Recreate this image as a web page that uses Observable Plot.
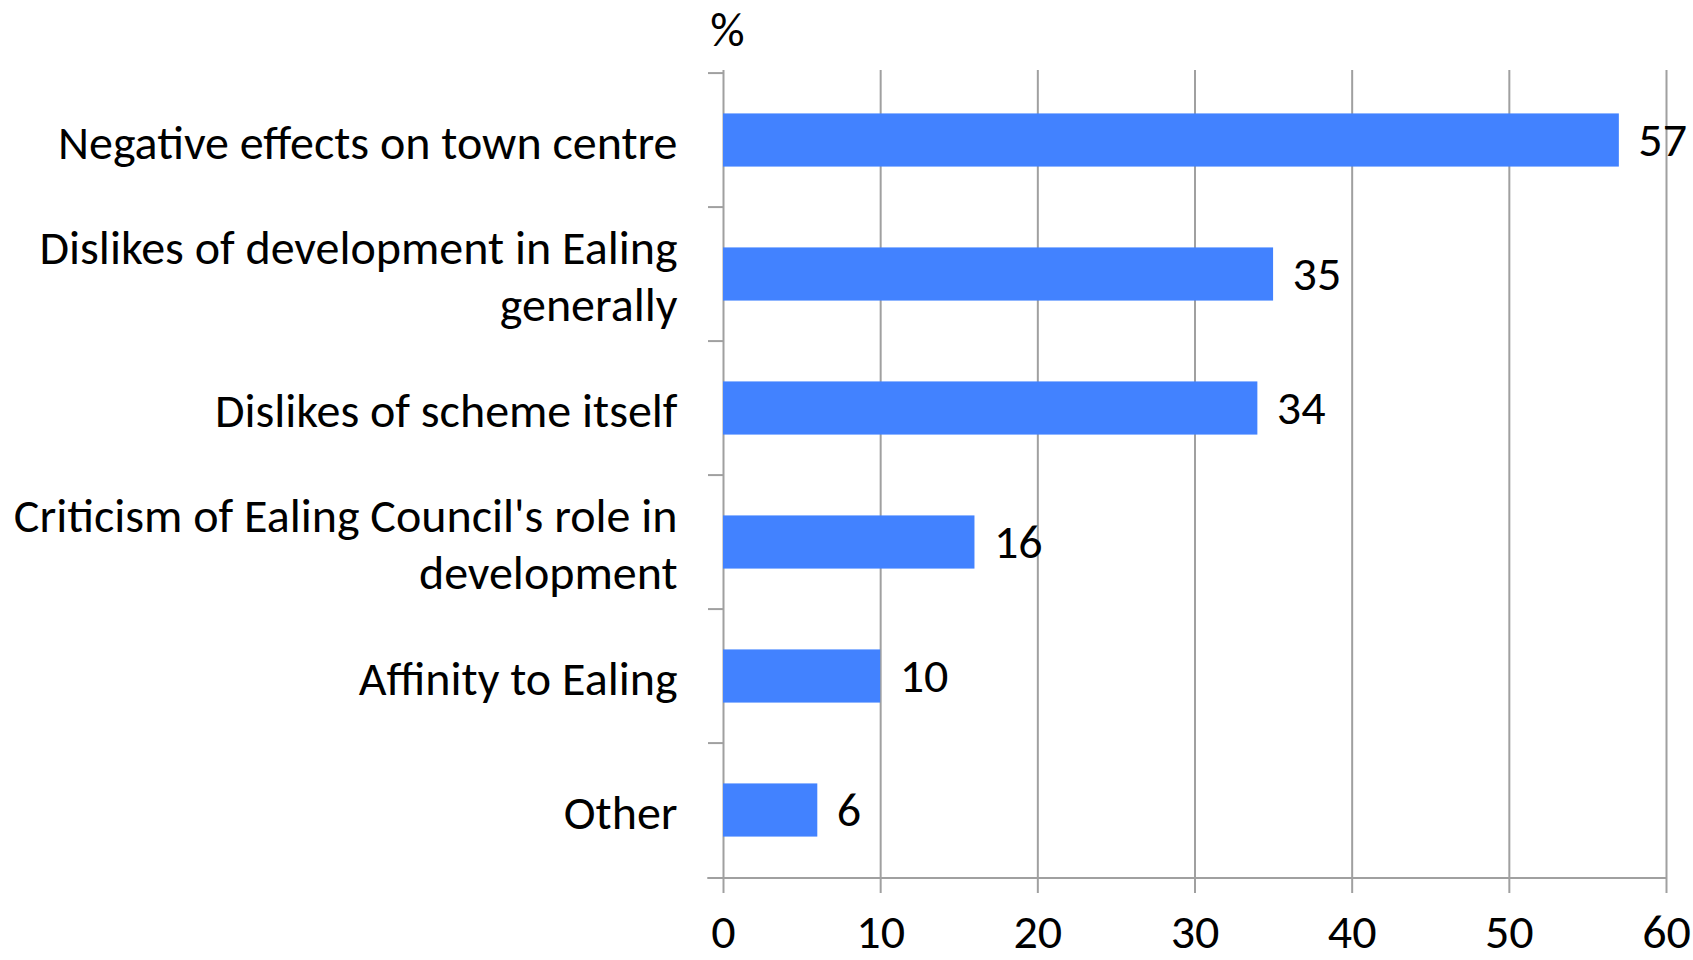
<!DOCTYPE html>
<html>
<head>
<meta charset="utf-8">
<script src="https://cdn.jsdelivr.net/npm/d3@7"></script>
<script src="https://cdn.jsdelivr.net/npm/@observablehq/plot@0.6"></script>
<style>
  html, body { margin: 0; padding: 0; background: #fff; }
  #chart svg { display: block; }
</style>
</head>
<body>
<div id="chart"></div>
<script>
const categories = [
  "Negative effects on town centre",
  "Dislikes of development in Ealing generally",
  "Dislikes of scheme itself",
  "Criticism of Ealing Council's role in development",
  "Affinity to Ealing",
  "Other"
];
const labelLines = [
  "Negative effects on town centre",
  "Dislikes of development in Ealing\ngenerally",
  "Dislikes of scheme itself",
  "Criticism of Ealing Council's role in\ndevelopment",
  "Affinity to Ealing",
  "Other"
];
const values = [57, 35, 34, 16, 10, 6];
const xTicks = [0, 10, 20, 30, 40, 50, 60];
const unitLabel = ["%"];

const data = categories.map((c, i) => ({category: c, label: labelLines[i], value: values[i]}));

const W = 1693, H = 960;
const mt = 70, mb = 81, ml = 723, mr = 27;
const halfStep = (H - mt - mb) / categories.length / 2;
const barInset = halfStep - 27;
const font = "Carlito, Lato, sans-serif";
const fs = 48;
const grey = "#a0a0a0";

const chart = Plot.plot({
  width: W,
  height: H,
  marginTop: mt,
  marginBottom: mb,
  marginLeft: ml,
  marginRight: mr,
  style: {fontFamily: font, fontSize: fs + "px", color: "#000", background: "#fff", overflow: "visible"},
  x: {domain: [0, 60]},
  y: {domain: categories, padding: 0},
  marks: [
    Plot.gridX(xTicks, {stroke: grey, strokeOpacity: 1, strokeWidth: 2}),
    Plot.axisX({ticks: xTicks, tickSize: 14, tickPadding: 20, stroke: grey, strokeWidth: 2, fontSize: fs, label: null, tickFormat: d => d}),
    Plot.axisY({tickSize: 15, text: null, stroke: grey, strokeWidth: 2, dy: -halfStep, label: null}),
    Plot.ruleY([categories[categories.length - 1]], {x1: -1, x2: 60, dy: halfStep, stroke: grey, strokeWidth: 2}),
    Plot.barX(data, {y: "category", x: "value", fill: "#4282ff", insetTop: barInset, insetBottom: barInset}),
    Plot.ruleX([0], {stroke: grey, strokeWidth: 2, y1: null}),
    Plot.text(data, {y: "category", x: 0, dx: -46, text: "label", textAnchor: "end", lineHeight: 1.19, fontSize: fs, fill: "#000"}),
    Plot.text(data, {y: "category", x: "value", dx: 19, text: d => String(d.value), textAnchor: "start", fontSize: fs, fill: "#000"}),
    Plot.text(unitLabel, {frameAnchor: "top-left", text: d => d, dy: -42, dx: 4, fontSize: fs, fill: "#000", textAnchor: "middle", lineAnchor: "middle", dy: -40})
  ]
});
document.getElementById("chart").appendChild(chart);
</script>
</body>
</html>
